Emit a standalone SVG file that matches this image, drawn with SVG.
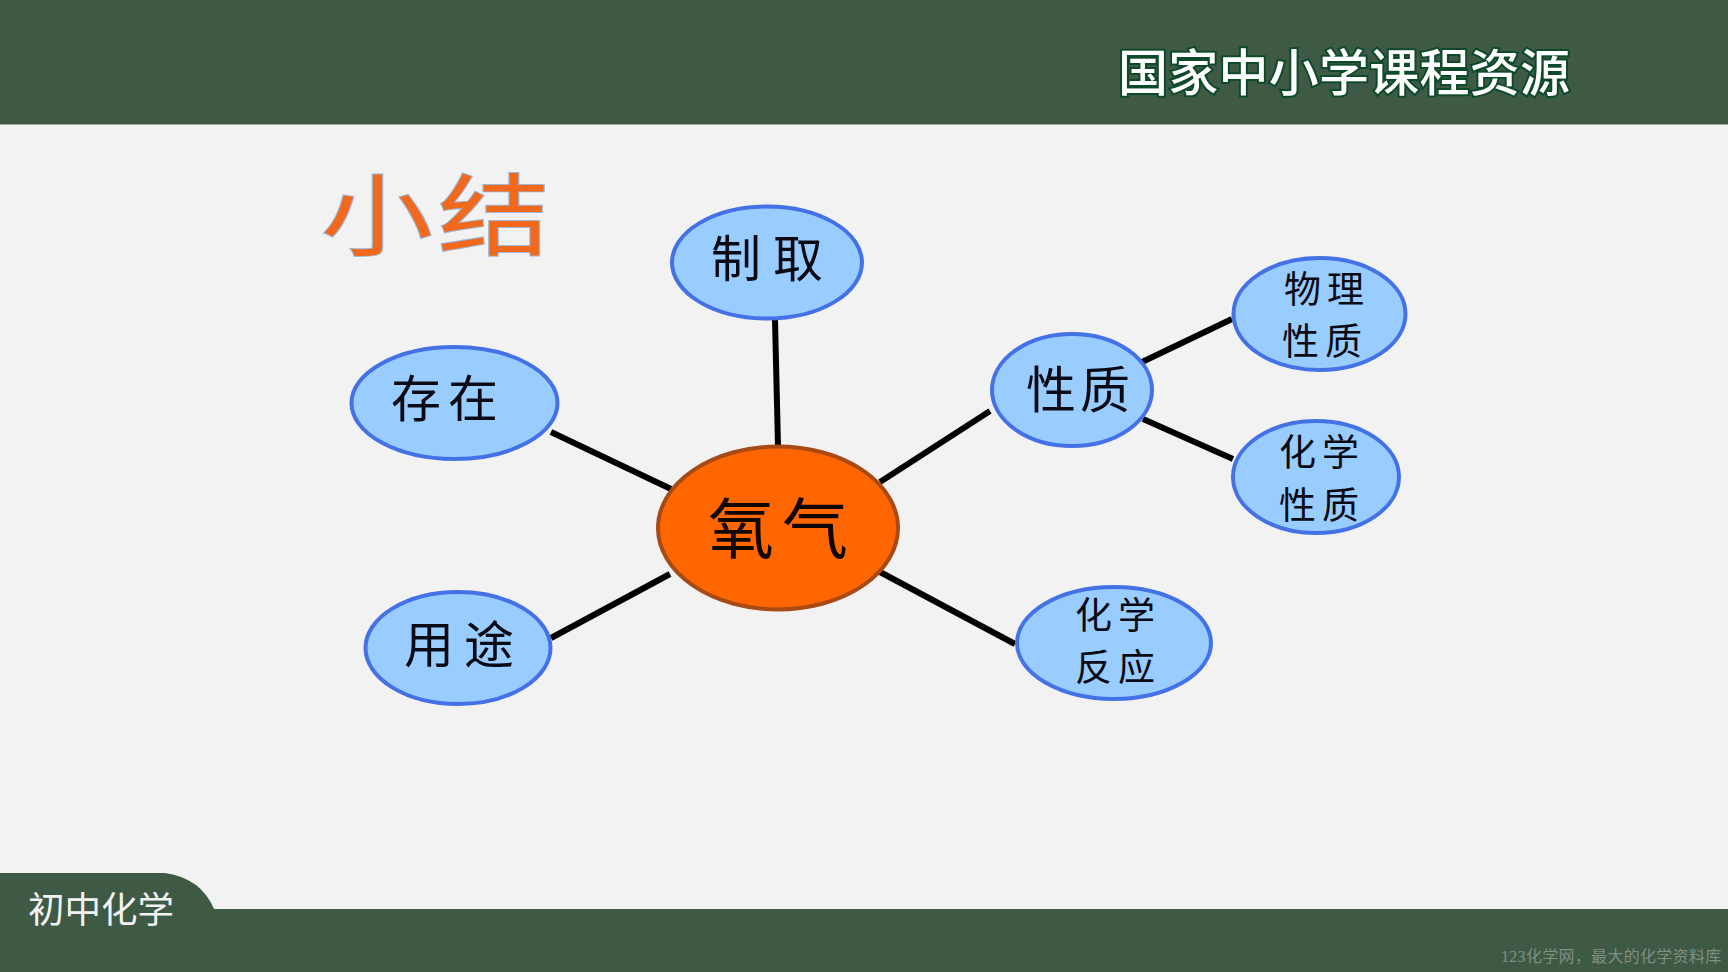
<svg xmlns="http://www.w3.org/2000/svg" width="1728" height="972" viewBox="0 0 1728 972">
<style>
.cjk{font-family:"Noto Sans CJK SC","Noto Sans",sans-serif;dominant-baseline:central}
.n{fill:#99ccff;stroke:#4472e6;stroke-width:4}
.l{font-size:50px;fill:#0a0a14}
.s{font-size:37px;fill:#0a0a14}
.c line{stroke:#000;stroke-width:6}
</style>
<rect width="1728" height="972" fill="#f2f2f2"/>
<g id="header"><rect width="1728" height="124.500" fill="#3e5a45"/>
<text class="cjk" x="1118" y="68.500" font-size="50" font-weight="500" fill="#fff" stroke="#0d4a2a" stroke-width="4" paint-order="stroke" textLength="452">国家中小学课程资源</text></g>
<g id="footer"><path d="M0 873H165Q201 878 214 909H1728V972H0Z" fill="#3e5a45"/>
<text class="cjk" x="28" y="907" font-size="36.500" fill="#f2f2f2">初中化学</text>
<text x="1501" y="956" font-size="16" letter-spacing="0.300" fill="#7f8f82" style="font-family:'Liberation Serif','Noto Sans CJK SC',serif;dominant-baseline:central">123化学网，最大的化学资料库</text></g>
<text id="title" class="cjk" x="0 117" y="0" font-size="112" fill="#f0691c" stroke="#9fb8d8" stroke-width="2.500" paint-order="stroke" transform="translate(321 209) scale(1 0.79)">小结</text>
<g id="connectors" class="c">
<line x1="551" y1="432" x2="671" y2="489"/>
<line x1="775" y1="320" x2="778" y2="446"/>
<line x1="880" y1="482" x2="990" y2="411"/>
<line x1="551" y1="638" x2="670" y2="574"/>
<line x1="880" y1="572" x2="1015" y2="644"/>
<line x1="1142" y1="362" x2="1232" y2="319"/>
<line x1="1143" y1="419" x2="1233" y2="459"/>
</g>
<g id="oxygen"><ellipse cx="778" cy="528" rx="120" ry="81.500" fill="#ff6600" stroke="#a84a14" stroke-width="4"/><text class="cjk" x="708 782" y="524" font-size="66" fill="#100800">氧气</text></g>
<g id="zhiqu"><ellipse class="n" cx="767" cy="262.500" rx="95" ry="56"/><text class="cjk l" x="711 773" y="255">制取</text></g>
<g id="cunzai"><ellipse class="n" cx="454.500" cy="403" rx="103" ry="56"/><text class="cjk l" x="391 448" y="395">存在</text></g>
<g id="yongtu"><ellipse class="n" cx="458" cy="648" rx="92.500" ry="56"/><text class="cjk l" x="404 464" y="641">用途</text></g>
<g id="xingzhi"><ellipse class="n" cx="1072" cy="390" rx="80" ry="56"/><text class="cjk l" x="1026 1080" y="386">性质</text></g>
<g id="wuli"><ellipse class="n" cx="1319.500" cy="314" rx="86" ry="56"/><text class="cjk s" x="1284 1327" y="287">物理</text><text class="cjk s" x="1282 1325" y="339">性质</text></g>
<g id="huaxue"><ellipse class="n" cx="1316" cy="477" rx="83" ry="56"/><text class="cjk s" x="1279 1322" y="450">化学</text><text class="cjk s" x="1279 1322" y="503">性质</text></g>
<g id="fanying"><ellipse class="n" cx="1114" cy="643" rx="97" ry="56"/><text class="cjk s" x="1075 1118" y="613">化学</text><text class="cjk s" x="1075 1118" y="665">反应</text></g>
</svg>
